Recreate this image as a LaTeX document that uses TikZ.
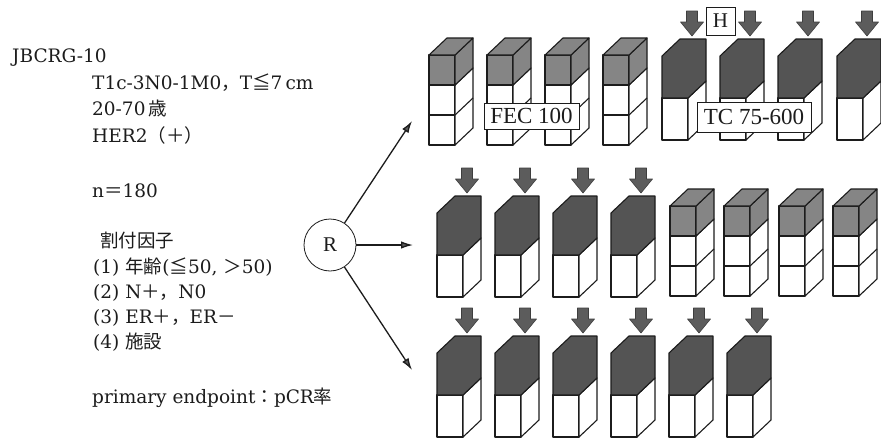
\documentclass[tikz,border=0pt]{standalone}
\usepackage{fontspec}
\setmainfont{DejaVu Serif}
\newfontfamily\labelfont{Liberation Serif}
\newfontfamily\jpfont{Noto Sans CJK JP}
\newcommand{\jp}[1]{{\jpfont #1}}
\usepackage{xcolor}
\usepackage{tikz}
\usetikzlibrary{arrows.meta}
\definecolor{Ink}{HTML}{1C1C1C}
\definecolor{SpeckleFill}{HTML}{858585}
\definecolor{DarkFill}{HTML}{545454}
\definecolor{ArrowFill}{HTML}{5C5C5C}
\tikzset{
  infotext/.style={anchor=base west,inner sep=0pt,font=\fontsize{18.5}{22}\selectfont,text=Ink},
  armlabel/.style={draw=Ink,fill=white,line width=0.8pt,inner sep=0pt,font=\labelfont\fontsize{23}{26}\selectfont,text=Ink},
  randnode/.style={circle,draw=Ink,line width=0.8pt,minimum size=52pt,inner sep=0pt,font=\labelfont\fontsize{21}{24}\selectfont,text=Ink},
  randarm/.style={line width=1.3pt,draw=Ink,-{Latex[length=12pt,width=7.5pt,fill=ArrowFill]}},
  blockedge/.style={draw=Ink,line width=1.1pt,line join=round},
  emptyface/.style={blockedge,fill=white},
  speckleface/.style={blockedge,fill=SpeckleFill},
  darkface/.style={blockedge,fill=DarkFill},
  dosearrow/.style={draw=Ink!85,fill=ArrowFill,line width=0.6pt,line join=round},
  fecblock/.pic={
    \draw[emptyface] (0,0) rectangle (26,-30);
    \draw[emptyface] (0,-30) rectangle (26,-60);
    \draw[emptyface] (26,0) -- (44,-17) -- (44,-77) -- (26,-60) -- cycle;
    \draw[blockedge] (26,-30) -- (44,-47);
    \draw[speckleface] (0,-60) rectangle (26,-90);
    \draw[speckleface] (26,-60) -- (44,-77) -- (44,-107) -- (26,-90) -- cycle;
    \draw[speckleface] (0,-90) -- (18,-107) -- (44,-107) -- (26,-90) -- cycle;
  },
  tcblock/.pic={
    \draw[emptyface] (0,0) rectangle (26,-42);
    \draw[emptyface] (26,0) -- (44,-17) -- (44,-59) -- (26,-42) -- cycle;
    \draw[darkface] (0,-42) -- (26,-42) -- (44,-59) -- (44,-101) -- (18,-101) -- (0,-84) -- cycle;
    \draw[dosearrow] (24.5,-129) -- (35.5,-129) -- (35.5,-118) -- (41.5,-118) -- (30,-104) -- (18.5,-118) -- (24.5,-118) -- cycle;
  }
}

\begin{document}
\begin{tikzpicture}[x=1pt,y=-1pt]
  \useasboundingbox (0,0) rectangle (881,439);
  \fill[white] (0,0) rectangle (881,439);

  \node[infotext] (trial) at (12,62) {JBCRG-10};
  \node[infotext] (stage) at (92,89) {T1c-3N0-1M0\jp{，}T\jp{≦}7\,cm};
  \node[infotext] (age) at (92,115) {20-70\,\jp{歳}};
  \node[infotext] (her) at (92,142) {HER2\jp{（＋）}};
  \node[infotext] (size) at (92,197) {n\jp{＝}180};
  \node[infotext] (factors) at (100,247) {\jp{割付因子}};
  \node[infotext] (factorA) at (93,273) {(1) \jp{年齢}(\jp{≦}50, \jp{＞}50)};
  \node[infotext] (factorB) at (93,298) {(2) N\jp{＋，}N0};
  \node[infotext] (factorC) at (93,323) {(3) ER\jp{＋，}ER\jp{－}};
  \node[infotext] (factorD) at (93,348) {(4) \jp{施設}};
  \node[infotext] (endpoint) at (92,403) {primary endpoint\jp{：}pCR\jp{率}};

  \node[randnode] (rand) at (330,245) {R};
  \coordinate (armOne) at (412,121);
  \coordinate (armTwo) at (413,245);
  \coordinate (armThree) at (412,370);
  \draw[randarm] (rand) -- (armOne);
  \draw[randarm] (rand) -- (armTwo);
  \draw[randarm] (rand) -- (armThree);

  \pic at (429,145) {fecblock};
  \pic at (487,145) {fecblock};
  \pic at (545,145) {fecblock};
  \pic at (603,145) {fecblock};
  \pic at (662,140) {tcblock};
  \pic at (720,140) {tcblock};
  \pic at (778,140) {tcblock};
  \pic at (837,140) {tcblock};
  \node[armlabel,minimum width=95pt,minimum height=26pt] (fecOne) at (531.5,116) {FEC 100};
  \node[armlabel,minimum width=114pt,minimum height=30pt] (tcOne) at (754,117) {TC 75-600};
  \node[armlabel,minimum width=29pt,minimum height=28pt,font=\labelfont\fontsize{21}{24}\selectfont] (herOne) at (720.5,21) {H};

  \pic at (437,297) {tcblock};
  \pic at (495,297) {tcblock};
  \pic at (553,297) {tcblock};
  \pic at (611,297) {tcblock};
  \pic at (670,296) {fecblock};
  \pic at (724,296) {fecblock};
  \pic at (779,296) {fecblock};
  \pic at (833,296) {fecblock};

  \pic at (437,437) {tcblock};
  \pic at (495,437) {tcblock};
  \pic at (553,437) {tcblock};
  \pic at (611,437) {tcblock};
  \pic at (669,437) {tcblock};
  \pic at (727,437) {tcblock};
\end{tikzpicture}
\end{document}
